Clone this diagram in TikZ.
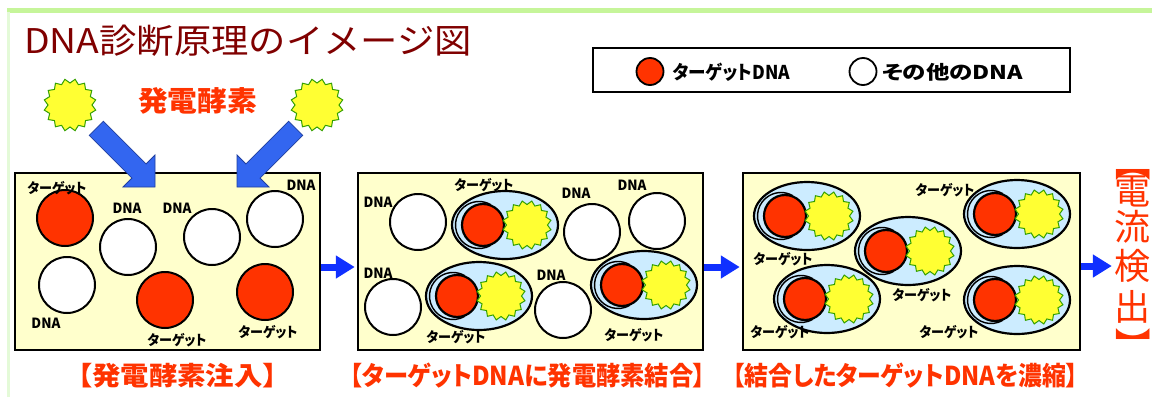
\documentclass[tikz,border=0pt]{standalone}
\usepackage{fontspec}
\usepackage{graphicx}
\usetikzlibrary{shapes.geometric,arrows.meta}
\newfontfamily\jp{Noto Sans CJK JP}
\newfontfamily\jpp[RawFeature=+palt]{Noto Sans CJK JP}
\definecolor{tred}{HTML}{FF3300}
\definecolor{dred}{HTML}{800000}
\definecolor{boxy}{HTML}{FFFFCC}
\definecolor{lblue}{HTML}{CCECFF}
\definecolor{sunY}{HTML}{FFFF33}
\definecolor{sunG}{HTML}{33A000}
\definecolor{barB}{HTML}{3366F0}
\definecolor{barE}{HTML}{1F3FA0}
\definecolor{linkB}{HTML}{1030FF}
\definecolor{topG}{HTML}{C6F59A}
\definecolor{sideG}{HTML}{E4FAD8}
% stretch a piece of text to a given width, keeping its height
\newcommand{\fitw}[2]{\resizebox{#1pt}{\height}{#2}}
\newcommand{\tgt}{\fitw{59}{ターゲット}}
\newcommand{\dnat}{\fitw{29}{DNA}}
\begin{document}
\begin{tikzpicture}[x=1pt,y=-1pt,
  panel/.style={draw=black, line width=2.5pt, fill=boxy, inner sep=0},
  dnaw/.style={circle, draw=black, line width=2pt, fill=white, minimum size=56pt, inner sep=0},
  dnar/.style={dnaw, fill=tred},
  sun/.style={star, star points=16, star point ratio=0.84, draw=sunG, line width=1pt, fill=sunY, minimum size=41pt, inner sep=0},
  lbl/.style={inner sep=0, font=\jpp\bfseries\fontsize{14}{14}\selectfont},
  capt/.style={inner sep=0, text=tred, font=\jpp\bfseries\fontsize{26}{26}\selectfont},
  vt/.style={inner sep=0, text=tred, font=\jp\fontsize{36}{36}\selectfont},
  vb/.style={inner sep=0, text=tred, font=\jpp\fontsize{36}{36}\selectfont, rotate=-90},
  leg/.style={inner sep=0, font=\jpp\bfseries\fontsize{19}{19}\selectfont},
  link/.style={draw=linkB, line width=7pt, -{Triangle[length=19pt,width=22pt]}, shorten >=2pt},
  block/.style={fill=barB, draw=barE, line width=0.8pt, line join=miter},
  % enzyme bound to a target DNA, inside its light-blue capsule
  complex/.pic={
    \draw[line width=2.2pt, fill=lblue] (0,0) ellipse [x radius=53, y radius=34];
    \draw[line width=1.4pt] (-26,0) ++(60:23.5) arc[start angle=60, end angle=300, radius=23.5];
    \node[dnar, minimum size=42pt, line width=2.2pt] (-r) at (-22,0) {};
    \node[sun] (-s) at (22,0) {};
  },
  % wide block arrow, tip at the origin, pointing along +x
  blockarrow/.pic={
    \path[block] (0,0) -- (-22.6,22.6) -- (-22.6,10) -- (-83,10) -- (-83,-10)
      -- (-22.6,-10) -- (-22.6,-22.6) -- cycle;
  }
]
\fill[white] (0,0) rectangle (1152,397);
\useasboundingbox (0,0) rectangle (1152,397);

% page trim
\draw[topG, line width=5pt] (7,10.5) -- (1152,10.5);
\draw[sideG, line width=3pt] (8,12) -- (8,397);

% title
\node[anchor=west, inner sep=0, text=dred, font=\jp\fontsize{34}{34}\selectfont] (title) at (24,41)
  {\fitw{448}{DNA診断原理のイメージ図}};

% legend
\node[draw=black, line width=1.8pt, minimum width=477, minimum height=44, inner sep=0] (legend) at (831.5,70) {};
\node[dnar, minimum size=27pt, line width=1.8pt] (legR) at (650,71.5) {};
\node[leg] (legRt) at (731.5,72) {\fitw{117}{ターゲットDNA}};
\node[dnaw, minimum size=27pt, line width=1.8pt] (legW) at (863,71.5) {};
\node[leg] (legWt) at (952.5,72) {\fitw{141}{その他のDNA}};

% enzyme supply
\node[sun, minimum size=44pt] (sunL) at (70,105) {};
\node[sun, minimum size=44pt] (sunR) at (317,105) {};
\node[inner sep=0, text=tred, font=\jpp\bfseries\fontsize{28}{28}\selectfont] (enz) at (197.5,100.5) {\fitw{119}{発電酵素}};

% three stages
\node[panel, minimum width=305, minimum height=177] (box1) at (167.5,261.5) {};
\node[panel, minimum width=345, minimum height=177] (box2) at (530.5,261.5) {};
\node[panel, minimum width=337, minimum height=177] (box3) at (911.5,261.5) {};

% stage 1: mixture
\node[dnar] (b1a) at (65,218) {};
\node[dnaw] (b1b) at (128,247) {};
\node[dnaw] (b1c) at (212,237) {};
\node[dnaw] (b1d) at (275,219) {};
\node[dnaw] (b1e) at (67,285) {};
\node[dnar] (b1f) at (165,300) {};
\node[dnar] (b1g) at (265,292) {};
\foreach \p [count=\i] in {(57,188),(177,340),(268,332)}
  \node[lbl] (b1t\i) at \p {\tgt};
\foreach \p [count=\i] in {(127,208),(177,208),(301,185),(46,323)}
  \node[lbl] (b1d\i) at \p {\dnat};

% stage 2: enzyme bound to targets
\node[dnaw] (b2a) at (418,222) {};
\node[dnaw] (b2b) at (592,232) {};
\node[dnaw] (b2c) at (657,221) {};
\node[dnaw] (b2d) at (393,307) {};
\node[dnaw] (b2e) at (563,310) {};
\pic (b2x) at (505,225) {complex};
\pic (b2y) at (479,296) {complex};
\pic (b2z) at (644,285) {complex};
\foreach \p [count=\i] in {(484,185),(456,337),(634,335)}
  \node[lbl] (b2t\i) at \p {\tgt};
\foreach \p [count=\i] in {(378,202),(576,193),(632,185),(378,273),(551,275)}
  \node[lbl] (b2d\i) at \p {\dnat};

% stage 3: concentrated targets
\pic (b3a) at (807,216) {complex};
\pic (b3b) at (908,251) {complex};
\pic (b3c) at (1017,214) {complex};
\pic (b3d) at (827,299) {complex};
\pic (b3e) at (1017,300) {complex};
\foreach \p [count=\i] in {(945,190),(783,259),(922,295),(780,332),(949,332)}
  \node[lbl] (b3t\i) at \p {\tgt};

% enzyme injection arrows
\coordinate (tipL) at (155,187);
\coordinate (tipR) at (237,187);
\pic[rotate=-45] (injL) at (tipL) {blockarrow};
\pic[rotate=-135] (injR) at (tipR) {blockarrow};

% current detection, set vertically
\node[vb] (v0) at (1133,172) {【};
\node[vt] (v1) at (1132,191) {電};
\node[vt] (v2) at (1132,227) {流};
\node[vt] (v3) at (1132,266) {検};
\node[vt] (v4) at (1132,307) {出};
\node[vb] (v5) at (1133,337) {】};

% flow between stages
\draw[link] ([yshift=-5.5pt]box1.east) -- ([yshift=-5.5pt]box2.west);
\draw[link] ([yshift=-5.5pt]box2.east) -- ([yshift=-5.5pt]box3.west);
\draw[link] (box3.east |- v3.west) -- (v3.west);

% captions
\node[capt] (cap1) at (177.5,376) {\fitw{199}{【発電酵素注入】}};
\node[capt] (cap2) at (528,376) {\fitw{355}{【ターゲットDNAに発電酵素結合】}};
\node[capt] (cap3) at (905.5,376) {\fitw{345}{【結合したターゲットDNAを濃縮】}};
\end{tikzpicture}
\end{document}
